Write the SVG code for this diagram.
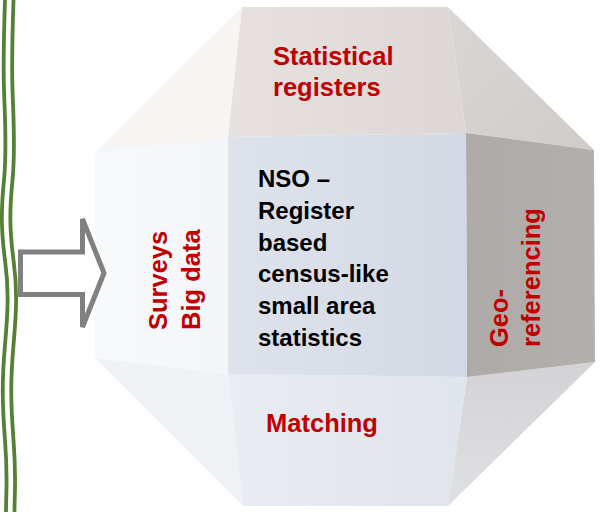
<svg xmlns="http://www.w3.org/2000/svg" width="603" height="512" viewBox="0 0 603 512">
  <style>
    .lbl { font-family: "Liberation Sans", Arial, sans-serif; font-weight: bold; }
    .red { fill: #c00000; font-size: 25.5px; }
    .blk { fill: #000000; font-size: 24px; }
    .wave { fill: none; stroke: #548235; stroke-width: 3.8; }
    .face { stroke: none; }
  </style>
  <defs>
    <linearGradient id="gTop" x1="0" y1="0" x2="1" y2="0">
      <stop offset="0" stop-color="#e7e2df"/>
      <stop offset="1" stop-color="#dcd7d4"/>
    </linearGradient>
    <linearGradient id="gUpRight" x1="0" y1="0" x2="1" y2="1">
      <stop offset="0" stop-color="#dad6d3"/>
      <stop offset="1" stop-color="#d0ccc9"/>
    </linearGradient>
    <linearGradient id="gRight" x1="0" y1="0" x2="1" y2="0">
      <stop offset="0" stop-color="#aeaaa8"/>
      <stop offset="1" stop-color="#b3afad"/>
    </linearGradient>
    <linearGradient id="gLowRight" x1="0" y1="0" x2="0" y2="1">
      <stop offset="0" stop-color="#d3d3d5"/>
      <stop offset="1" stop-color="#dfe0e3"/>
    </linearGradient>
    <linearGradient id="gBottom" x1="0" y1="0" x2="1" y2="0">
      <stop offset="0" stop-color="#e9ecf2"/>
      <stop offset="1" stop-color="#e0e4eb"/>
    </linearGradient>
    <linearGradient id="gCenter" x1="0" y1="0" x2="1" y2="0">
      <stop offset="0" stop-color="#dee2eb"/>
      <stop offset="1" stop-color="#d3d9e4"/>
    </linearGradient>
    <linearGradient id="gLeft" x1="0" y1="0" x2="1" y2="0">
      <stop offset="0" stop-color="#f8f9fb"/>
      <stop offset="1" stop-color="#f4f5f8"/>
    </linearGradient>
  </defs>

  <rect width="603" height="512" fill="#ffffff"/>

  <!-- double wavy border on the left -->
  <g id="border-lines">
    <path class="wave" d="M5,0 C4,30 3,60 4,90 S7,150 4,180 S1,230 5,260 S8,310 5,345 S2,400 5,440 S6,490 6,512"/>
    <path class="wave" d="M13.5,0 C12.5,30 11.5,60 12.5,90 S15.5,150 12.5,180 S9.5,230 13.5,260 S16.5,310 13.5,345 S10.5,400 13.5,440 S14.5,490 14.5,512"/>
  </g>

  <!-- faceted block -->
  <g id="face-upper-left"><polygon class="face" points="242,7 228,137 95,153" fill="#f6f5f3"/></g>
  <g id="face-left"><polygon class="face" points="95,153 228,137 228,374 95,358" fill="url(#gLeft)"/></g>
  <g id="face-lower-left"><polygon class="face" points="95,358 228,374 243,506" fill="#eff1f5"/></g>
  <g id="face-upper-right"><polygon class="face" points="448,7 594,150 466,133" fill="url(#gUpRight)"/></g>
  <g id="face-lower-right"><polygon class="face" points="467,377 595,362 448,506" fill="url(#gLowRight)"/></g>

  <g id="node-top">
    <polygon class="face" points="242,7 448,7 466,133 228,137" fill="url(#gTop)"/>
    <text class="lbl red" x="273" y="65">Statistical</text>
    <text class="lbl red" x="273" y="96">registers</text>
  </g>

  <g id="node-right">
    <polygon class="face" points="466,133 594,150 595,362 467,377" fill="url(#gRight)"/>
    <text class="lbl red" transform="translate(508,347) rotate(-90)">Geo-</text>
    <text class="lbl red" transform="translate(540,347) rotate(-90)">referencing</text>
  </g>

  <g id="node-bottom">
    <polygon class="face" points="228,374 467,377 448,506 243,506" fill="url(#gBottom)"/>
    <text class="lbl red" x="322" y="432" text-anchor="middle">Matching</text>
  </g>

  <g id="node-left">
    <text class="lbl red" transform="translate(167,330) rotate(-90)">Surveys</text>
    <text class="lbl red" transform="translate(200,330) rotate(-90)">Big data</text>
  </g>

  <g id="node-center">
    <polygon class="face" points="228,137 466,133 467,377 228,374" fill="url(#gCenter)"/>
    <text class="lbl blk" x="258" y="187">NSO –</text>
    <text class="lbl blk" x="258" y="219">Register</text>
    <text class="lbl blk" x="258" y="251">based</text>
    <text class="lbl blk" x="258" y="282">census-like</text>
    <text class="lbl blk" x="258" y="314">small area</text>
    <text class="lbl blk" x="258" y="346">statistics</text>
  </g>

  <!-- block arrow pointing into the shape -->
  <g id="connectors">
    <polygon points="20.5,252 82.5,252 82.5,219 104,273 82.5,327 82.5,294.5 20.5,294.5" fill="#ffffff" stroke="#808080" stroke-width="5" stroke-linejoin="miter"/>
  </g>
</svg>
